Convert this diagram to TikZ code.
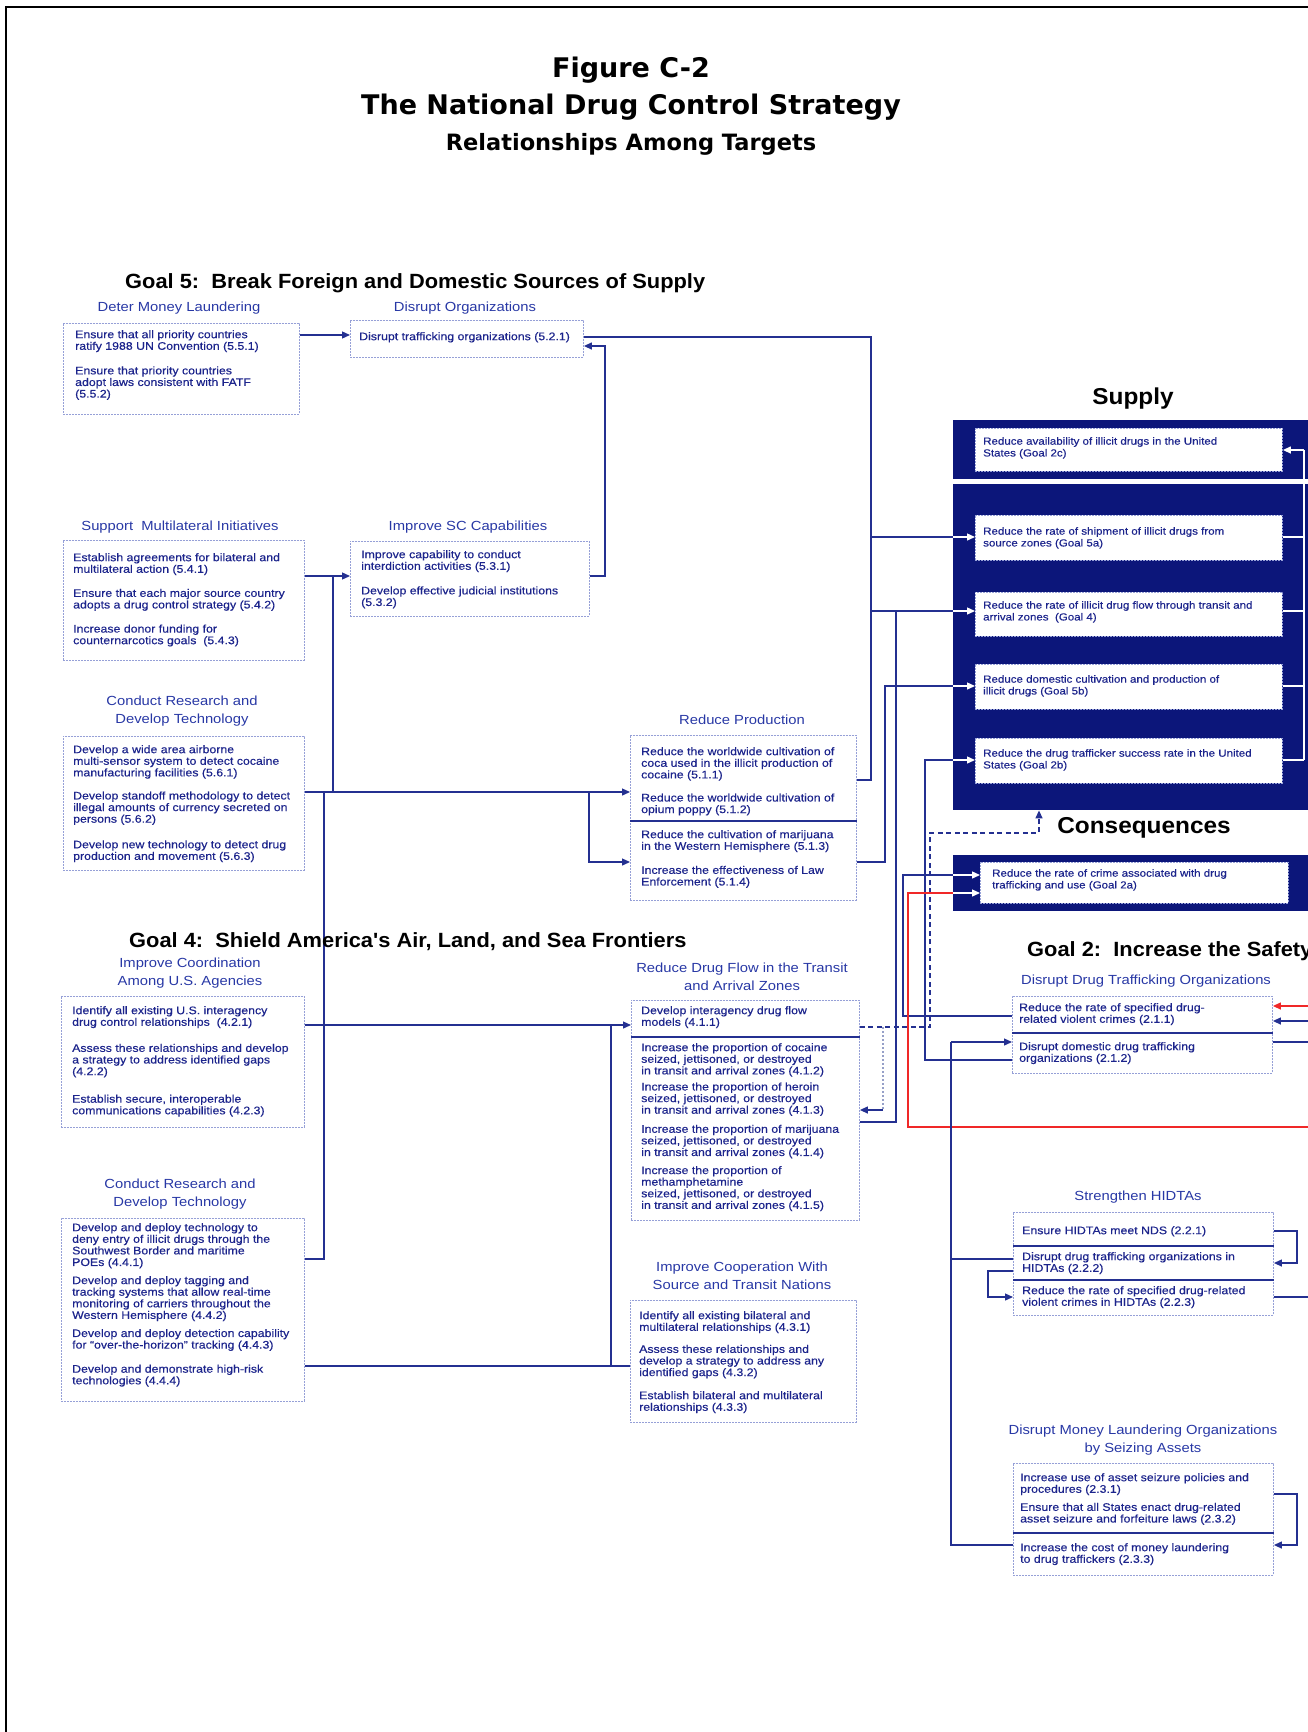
\documentclass[tikz,border=0pt]{standalone}
\usepackage{fontspec}
\usetikzlibrary{arrows.meta}
\newfontfamily\boxfnt[FakeStretch=1.12,FakeBold=0.35]{Liberation Sans}
\newfontfamily\lblfnt[FakeStretch=1.12]{Liberation Sans}
\newfontfamily\headfnt[FakeStretch=1.06]{Liberation Sans}
\newfontfamily\titlefnt{DejaVu Sans}

\definecolor{ink}{RGB}{28,36,140}
\definecolor{lblc}{RGB}{40,56,165}
\definecolor{wirec}{RGB}{36,48,145}
\definecolor{navyfill}{RGB}{12,22,122}
\definecolor{framec}{RGB}{150,160,215}
\definecolor{redc}{RGB}{240,40,40}
\definecolor{dotc}{RGB}{150,160,200}

\tikzset{
  wire/.style={draw=wirec, line width=1.3pt},
  whitewire/.style={draw=white, line width=1.3pt},
  redwire/.style={draw=redc, line width=1.3pt},
  dashwire/.style={draw=wirec, line width=1.3pt, dash pattern=on 5pt off 3.5pt},
  dotwire/.style={draw=dotc, line width=1.2pt, dash pattern=on 2pt off 2pt},
  arr/.style={-{Triangle[length=8pt,width=7pt]}},
  tbox/.style={draw=framec, line width=0.9pt, dash pattern=on 2pt off 1pt, fill=white,
    anchor=north west, inner sep=0pt},
  navy/.style={fill=navyfill, draw=none, anchor=north west, inner sep=0pt},
  divider/.style={draw=wirec, line width=1.6pt},
  btxt/.style={anchor=north west, align=left, inner sep=0pt, text=ink,
    font=\boxfnt\fontsize{11}{11.6}\selectfont},
  stxt/.style={anchor=north west, align=left, inner sep=0pt, text=ink,
    font=\boxfnt\fontsize{10.3}{11.8}\selectfont},
  lbl/.style={align=center, inner sep=0pt, text=lblc,
    font=\lblfnt\fontsize{13.2}{17.7}\selectfont},
  goalhd/.style={anchor=west, inner sep=0pt, font=\headfnt\bfseries\fontsize{20.6}{24}\selectfont},
  bighd/.style={inner sep=0pt, font=\headfnt\bfseries\fontsize{23}{26}\selectfont},
  titlestyle/.style={inner sep=0pt, font=\titlefnt\bfseries\fontsize{27}{30}\selectfont},
  subtitlestyle/.style={inner sep=0pt, font=\titlefnt\bfseries\fontsize{22.5}{26}\selectfont},
}

\begin{document}
\begin{tikzpicture}[x=1pt,y=-1pt]
\useasboundingbox (0,0) rectangle (1308,1732);
\begin{scope}
\clip (0,0) rectangle (1308,1732);

% outer frame
\draw[line width=2pt] (6,7) rectangle (1350,1770);

% ---------- navy panels (Supply / Consequences) ----------
\node[navy, minimum width=400pt, minimum height=59pt]  (snv1) at (953,420) {};
\node[navy, minimum width=400pt, minimum height=326pt] (snv2) at (953,484) {};
\node[navy, minimum width=400pt, minimum height=56pt]  (cnv)  at (953,855) {};

% ---------- boxes ----------
\node[tbox, minimum width=236pt, minimum height=91pt]  (dml) at (63,323) {};
\node[tbox, minimum width=233pt, minimum height=37pt]  (do)  at (350,320) {};
\node[tbox, minimum width=241pt, minimum height=120pt] (smi) at (63,540) {};
\node[tbox, minimum width=239pt, minimum height=75pt]  (isc) at (350,541) {};
\node[tbox, minimum width=241pt, minimum height=134pt] (cr1) at (63,736) {};
\node[tbox, minimum width=226pt, minimum height=165pt] (rp)  at (630,735) {};
\node[tbox, minimum width=243pt, minimum height=131pt] (ica) at (61,996) {};
\node[tbox, minimum width=228pt, minimum height=220pt] (rdf) at (631,1000) {};
\node[tbox, minimum width=243pt, minimum height=183pt] (cr2) at (61,1218) {};
\node[tbox, minimum width=226pt, minimum height=122pt] (ics) at (630,1300) {};

\node[tbox, minimum width=307pt, minimum height=43pt] (sb1) at (975,428) {};
\node[tbox, minimum width=307pt, minimum height=45pt] (sb2) at (975,515) {};
\node[tbox, minimum width=307pt, minimum height=44pt] (sb3) at (975,592) {};
\node[tbox, minimum width=307pt, minimum height=45pt] (sb4) at (975,664) {};
\node[tbox, minimum width=307pt, minimum height=45pt] (sb5) at (975,738) {};
\node[tbox, minimum width=308pt, minimum height=41pt] (cin) at (980,862) {};

\node[tbox, minimum width=260pt, minimum height=77pt]  (ddto) at (1012,996) {};
\node[tbox, minimum width=260pt, minimum height=103pt] (hid)  at (1013,1212) {};
\node[tbox, minimum width=260pt, minimum height=112pt] (ml)   at (1013,1463) {};

% dividers inside boxes
\draw[divider] (rp.west |- 0,821) -- (rp.east |- 0,821);
\draw[divider] (rdf.west |- 0,1037) -- (rdf.east |- 0,1037);
\draw[divider] (ddto.west |- 0,1033) -- (ddto.east |- 0,1033);
\draw[divider] (hid.west |- 0,1246) -- (hid.east |- 0,1246);
\draw[divider] (hid.west |- 0,1280) -- (hid.east |- 0,1280);
\draw[divider] (ml.west |- 0,1533) -- (ml.east |- 0,1533);

% ---------- junction points ----------
\coordinate (jdo)  at (871,337);
\coordinate (jrp)  at (871,780);
\coordinate (jsc)  at (605,346);
\coordinate (jsmi) at (333,576);
\coordinate (jcr1) at (333,792);
\coordinate (jcr)  at (324,792);
\coordinate (jrpb) at (589,792);
\coordinate (jica) at (611,1025);
\coordinate (jhid) at (951,1259);
\coordinate (jbus) at (951,1042);
\coordinate (jsup) at (1304,450);

% ---------- Goal 5 wiring ----------
\draw[wire,arr] (dml.east |- 0,335) -- (do.west |- 0,335);
\draw[wire,arr] (isc.east |- 0,576) -| (jsc) -- (do.east |- 0,346);
\draw[wire] (do.east |- 0,337) -- (jdo) -- (jrp) -- (rp.east |- 0,780);
\draw[wire,arr] (smi.east |- 0,576) -- (isc.west |- 0,576);
\draw[wire] (jsmi) -- (jcr1);
\draw[wire,arr] (cr1.east |- 0,792) -- (rp.west |- 0,792);
\draw[wire,arr] (jrpb) |- (rp.west |- 0,862);
\draw[wire] (jcr) |- (cr2.east |- 0,1259);

% into the Supply panel
\draw[wire] (871,537) -- (snv2.west |- 0,537);
\draw[wire] (871,611) -- (snv2.west |- 0,611);
\draw[wire] (rp.east |- 0,862) -| (885,686) -- (snv2.west |- 0,686);
\draw[wire] (rdf.east |- 0,1122) -| (896,611);
\draw[wire] (ddto.west |- 0,1060) -| (925,760) -- (snv2.west |- 0,760);
\foreach \yy/\tg in {537/sb2,611/sb3,686/sb4,760/sb5}
  \draw[whitewire,arr] (snv2.west |- 0,\yy) -- (\tg.west |- 0,\yy);

% Supply boxes feeding the availability target
\foreach \yy/\sr in {537/sb2,611/sb3,686/sb4,760/sb5}
  \draw[whitewire] (\sr.east |- 0,\yy) -- (1304,\yy);
\draw[whitewire] (1304,760) -- (jsup);
\draw[whitewire,arr] (jsup) -- (sb1.east |- 0,450);

% ---------- Goal 4 wiring ----------
\draw[wire,arr] (ica.east |- 0,1025) -- (rdf.west |- 0,1025);
\draw[wire] (jica) |- (ics.west |- 0,1366);
\draw[wire] (cr2.east |- 0,1366) -- (611,1366);
\draw[dashwire,arr] (rdf.east |- 0,1027) -| (930,833) -- (1039,833) -- (snv2.south -| 1039,0);
\draw[dotwire] (883,1027) -- (883,1110);
\draw[wire,arr] (883,1110) -- (rdf.east |- 0,1110);

% ---------- Goal 2 wiring ----------
\draw[wire] (ddto.west |- 0,1016) -| (903,875) -- (cnv.west |- 0,875);
\draw[whitewire,arr] (cnv.west |- 0,875) -- (cin.west |- 0,875);
\draw[redwire] (1320,1127) -| (908,893) -- (cnv.west |- 0,893);
\draw[whitewire,arr] (cnv.west |- 0,893) -- (cin.west |- 0,893);
\draw[redwire,arr] (1320,1006) -- (ddto.east |- 0,1006);
\draw[wire,arr] (1320,1021) -- (ddto.east |- 0,1021);
\draw[wire] (ddto.east |- 0,1042) -- (1320,1042);
\draw[wire] (ml.west |- 0,1545) -| (jbus);
\draw[wire,arr] (jbus) -- (ddto.west |- 0,1042);
\draw[wire] (jhid) -- (hid.west |- 0,1259);
\draw[wire,arr] (hid.east |- 0,1231) -| (1297,1263) -- (hid.east |- 0,1263);
\draw[wire,arr] (hid.west |- 0,1271) -| (988,1297) -- (hid.west |- 0,1297);
\draw[wire] (hid.east |- 0,1297) -- (1320,1297);
\draw[wire,arr] (ml.east |- 0,1494) -| (1297,1545) -- (ml.east |- 0,1545);

% ---------- titles ----------
\node[titlestyle] (t1) at (631,70) {Figure C-2};
\node[titlestyle] (t2) at (631,107) {The National Drug Control Strategy};
\node[subtitlestyle] (t3) at (631,144) {Relationships Among Targets};

\node[goalhd] (g5) at (125,283) {Goal 5:\ \ Break Foreign and Domestic Sources of Supply};
\node[goalhd] (g4) at (129,942) {Goal 4:\ \ Shield America's Air, Land, and Sea Frontiers};
\node[goalhd] (g2) at (1027,951) {Goal 2:\ \ Increase the Safety};
\node[bighd] (hsup) at (1133,399) {Supply};
\node[bighd] (hcon) at (1144,828) {Consequences};

% ---------- section labels ----------
\node[lbl] (ldml) at (179,308) {Deter Money Laundering};
\node[lbl] (ldo)  at (465,308) {Disrupt Organizations};
\node[lbl] (lsmi) at (180,527) {Support\ \ Multilateral Initiatives};
\node[lbl] (lisc) at (468,527) {Improve SC Capabilities};
\node[lbl] (lcr1) at (182,711) {Conduct Research and\\Develop Technology};
\node[lbl] (lrp)  at (742,720) {Reduce Production};
\node[lbl] (lica) at (190,973) {Improve Coordination\\Among U.S. Agencies};
\node[lbl] (lrdf) at (742,977) {Reduce Drug Flow in the Transit\\and Arrival Zones};
\node[lbl] (lcr2) at (180,1194) {Conduct Research and\\Develop Technology};
\node[lbl] (lics) at (742,1276) {Improve Cooperation With\\Source and Transit Nations};
\node[lbl] (lddt) at (1146,981) {Disrupt Drug Trafficking Organizations};
\node[lbl] (lhid) at (1138,1197) {Strengthen HIDTAs};
\node[lbl] (lml)  at (1143,1440) {Disrupt Money Laundering Organizations\\by Seizing Assets};

% ---------- box texts ----------
\node[btxt] (dmlT) at (75,330) {Ensure that all priority countries\\ratify 1988 UN Convention (5.5.1)\\[13pt]
Ensure that priority countries\\adopt laws consistent with FATF\\(5.5.2)};
\node[btxt] (doT) at (359,332) {Disrupt trafficking organizations (5.2.1)};
\node[btxt] (smiT) at (73,553) {Establish agreements for bilateral and\\multilateral action (5.4.1)\\[12.5pt]
Ensure that each major source country\\adopts a drug control strategy (5.4.2)\\[12.5pt]
Increase donor funding for\\counternarcotics goals\ \ (5.4.3)};
\node[btxt] (iscT) at (361,550) {Improve capability to conduct\\interdiction activities (5.3.1)\\[13pt]
Develop effective judicial institutions\\(5.3.2)};
\node[btxt] (cr1T) at (73,745) {Develop a wide area airborne\\multi-sensor system to detect cocaine\\manufacturing facilities (5.6.1)\\[11.5pt]
Develop standoff methodology to detect\\illegal amounts of currency secreted on\\persons (5.6.2)\\[14pt]
Develop new technology to detect drug\\production and movement (5.6.3)};
\node[btxt] (rp1T) at (641,747) {Reduce the worldwide cultivation of\\coca used in the illicit production of\\cocaine (5.1.1)\\[11.5pt]
Reduce the worldwide cultivation of\\opium poppy (5.1.2)};
\node[btxt] (rp2T) at (641,830) {Reduce the cultivation of marijuana\\in the Western Hemisphere (5.1.3)\\[12.5pt]
Increase the effectiveness of Law\\Enforcement (5.1.4)};
\node[btxt] (icaT) at (72,1006) {Identify all existing U.S. interagency\\drug control relationships\ \ (4.2.1)\\[14.5pt]
Assess these relationships and develop\\a strategy to address identified gaps\\(4.2.2)\\[16pt]
Establish secure, interoperable\\communications capabilities (4.2.3)};
\node[btxt] (rdf1T) at (641,1006) {Develop interagency drug flow\\models (4.1.1)};
\node[btxt] (rdf2T) at (641,1043) {Increase the proportion of cocaine\\seized, jettisoned, or destroyed\\in transit and arrival zones (4.1.2)\\[4.5pt]
Increase the proportion of heroin\\seized, jettisoned, or destroyed\\in transit and arrival zones (4.1.3)\\[7.5pt]
Increase the proportion of marijuana\\seized, jettisoned, or destroyed\\in transit and arrival zones (4.1.4)\\[6.5pt]
Increase the proportion of\\methamphetamine\\seized, jettisoned, or destroyed\\in transit and arrival zones (4.1.5)};
\node[btxt] (cr2T) at (72,1223) {Develop and deploy technology to\\deny entry of illicit drugs through the\\Southwest Border and maritime\\POEs (4.4.1)\\[6.5pt]
Develop and deploy tagging and\\tracking systems that allow real-time\\monitoring of carriers throughout the\\Western Hemisphere (4.4.2)\\[6.5pt]
Develop and deploy detection capability\\for “over-the-horizon” tracking (4.4.3)\\[12.5pt]
Develop and demonstrate high-risk\\technologies (4.4.4)};
\node[btxt] (icsT) at (639,1311) {Identify all existing bilateral and\\multilateral relationships (4.3.1)\\[10.5pt]
Assess these relationships and\\develop a strategy to address any\\identified gaps (4.3.2)\\[11.5pt]
Establish bilateral and multilateral\\relationships (4.3.3)};

\node[stxt] (sb1T) at (983,437) {Reduce availability of illicit drugs in the United\\States (Goal 2c)};
\node[stxt] (sb2T) at (983,527) {Reduce the rate of shipment of illicit drugs from\\source zones (Goal 5a)};
\node[stxt] (sb3T) at (983,601) {Reduce the rate of illicit drug flow through transit and\\arrival zones\ \ (Goal 4)};
\node[stxt] (sb4T) at (983,675) {Reduce domestic cultivation and production of\\illicit drugs (Goal 5b)};
\node[stxt] (sb5T) at (983,749) {Reduce the drug trafficker success rate in the United\\States (Goal 2b)};
\node[stxt] (cinT) at (992,869) {Reduce the rate of crime associated with drug\\trafficking and use (Goal 2a)};

\node[btxt] (ddt1T) at (1019,1003) {Reduce the rate of specified drug-\\related violent crimes (2.1.1)};
\node[btxt] (ddt2T) at (1019,1042) {Disrupt domestic drug trafficking\\organizations (2.1.2)};
\node[btxt] (hid1T) at (1022,1226) {Ensure HIDTAs meet NDS (2.2.1)};
\node[btxt] (hid2T) at (1022,1252) {Disrupt drug trafficking organizations in\\HIDTAs (2.2.2)};
\node[btxt] (hid3T) at (1022,1286) {Reduce the rate of specified drug-related\\violent crimes in HIDTAs (2.2.3)};
\node[btxt] (ml1T) at (1020,1473) {Increase use of asset seizure policies and\\procedures (2.3.1)\\[6.5pt]
Ensure that all States enact drug-related\\asset seizure and forfeiture laws (2.3.2)};
\node[btxt] (ml3T) at (1020,1543) {Increase the cost of money laundering\\to drug traffickers (2.3.3)};

\end{scope}
\end{tikzpicture}
\end{document}
